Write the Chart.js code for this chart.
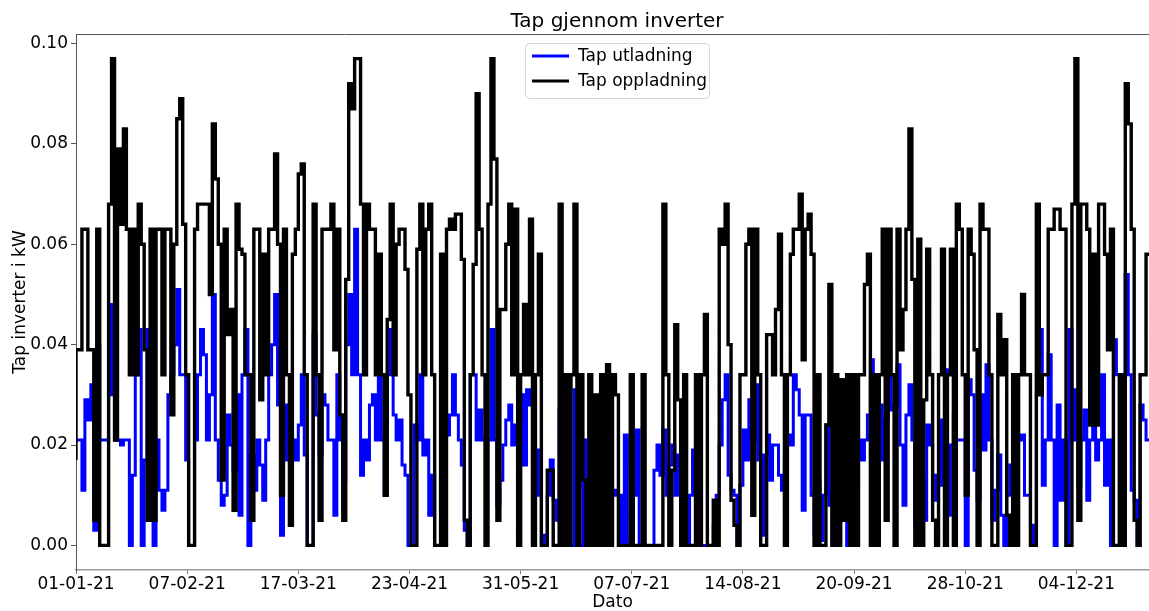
<!DOCTYPE html>
<html lang="no">

<head>
    <meta charset="UTF-8">
    <title>Tap gjennom inverter</title>
    <style>
        html, body { margin: 0; padding: 0; background: #fff; overflow: hidden; }
        #wrap { width: 1149px; height: 611px; }
    </style>
</head>

<body>
    <div id="wrap">
        <canvas id="tapChart" width="1149" height="611"></canvas>
    </div>
    <script src="https://cdn.jsdelivr.net/npm/chart.js"></script>
    <script>
        // tick-tekster på x-aksen (ett merke per 900 timer)
        const datoTicks = ['01-01-21', '07-02-21', '17-03-21', '23-04-21', '31-05-21',
            '07-07-21', '14-08-21', '20-09-21', '28-10-21', '04-12-21'];
        const timerPerTick = 900;
        const yTicks = [0.00, 0.02, 0.04, 0.06, 0.08, 0.10];

        // ett punkt per dag (dag 0 = 01-01-21), verdier i W lest av figuren
        const tapUtladningW = [
            21, 21, 21, 11, 29, 25, 32, 3, 40, 21,
            21, 21, 48, 30, 21, 21, 20, 21, 21, 0,
            14, 34, 43, 0, 17, 43, 17, 0, 21, 11,
            7, 11, 30, 34, 40, 51, 34, 34, 17, 0,
            0, 21, 34, 43, 38, 21, 30, 50, 21, 13,
            8, 10, 26, 20, 15, 30, 6, 34, 43, 0,
            18, 11, 21, 16, 9, 21, 34, 40, 50, 28,
            2, 17, 28, 21, 21, 17, 24, 34, 18, 0,
            0, 42, 26, 18, 30, 28, 21, 21, 6, 34,
            21, 13, 40, 50, 34, 63, 34, 14, 21, 17,
            28, 30, 21, 34, 21, 10, 34, 43, 26, 21,
            25, 16, 14, 0, 0, 24, 21, 34, 18, 21,
            6, 14, 0, 0, 40, 0, 22, 26, 34, 26,
            21, 16, 3, 0, 34, 34, 21, 27, 21, 21,
            21, 43, 21, 8, 13, 20, 25, 28, 20, 24,
            0, 30, 16, 31, 28, 0, 19, 10, 0, 2,
            10, 17, 9, 5, 27, 0, 0, 0, 0, 31,
            0, 0, 21, 0, 5, 0, 10, 0, 8, 0,
            12, 0, 10, 11, 10, 0, 22, 0, 0, 10,
            23, 0, 0, 0, 0, 0, 15, 20, 14, 23,
            10, 16, 20, 10, 18, 0, 0, 0, 10, 19,
            16, 12, 0, 0, 0, 0, 4, 10, 20, 29,
            34, 14, 11, 10, 0, 12, 23, 17, 29, 21,
            32, 17, 2, 18, 22, 13, 20, 20, 14, 11,
            17, 22, 20, 34, 31, 26, 7, 26, 26, 10,
            2, 13, 1, 10, 24, 8, 11, 8, 7, 15,
            10, 0, 0, 11, 11, 21, 17, 21, 26, 37,
            21, 0, 28, 17, 25, 34, 27, 28, 36, 20,
            8, 26, 32, 21, 4, 16, 13, 5, 24, 20,
            14, 9, 12, 25, 35, 6, 20, 26, 21, 21,
            21, 0, 33, 30, 15, 9, 30, 19, 36, 21,
            5, 11, 18, 6, 0, 10, 16, 0, 15, 21,
            22, 10, 10, 4, 0, 34, 43, 12, 21, 38,
            21, 0, 28, 9, 21, 0, 43, 21, 31, 12,
            21, 27, 9, 21, 55, 17, 21, 34, 12, 21,
            0, 41, 34, 0, 21, 54, 34, 11, 9, 0,
            28, 25, 21, 14
        ];

        const tapOppladningW = [
            17, 39, 39, 63, 63, 39, 39, 5, 63, 0,
            0, 0, 68, 97, 21, 79, 64, 83, 63, 34,
            63, 34, 68, 60, 39, 5, 63, 5, 63, 63,
            34, 63, 63, 26, 60, 85, 89, 64, 34, 0,
            0, 63, 68, 68, 68, 68, 50, 84, 73, 60,
            13, 63, 42, 47, 7, 68, 59, 58, 34, 34,
            5, 63, 63, 29, 58, 34, 63, 63, 78, 60,
            10, 63, 34, 4, 58, 63, 74, 76, 34, 0,
            0, 68, 34, 5, 63, 63, 63, 68, 39, 63,
            26, 5, 53, 92, 87, 97, 97, 68, 34, 68,
            63, 63, 34, 58, 34, 10, 45, 68, 34, 60,
            63, 63, 55, 30, 0, 0, 59, 68, 34, 63,
            68, 34, 0, 0, 58, 0, 63, 65, 63, 66,
            66, 57, 5, 0, 34, 56, 90, 63, 34, 0,
            68, 97, 77, 5, 47, 47, 60, 68, 34, 67,
            0, 34, 48, 34, 65, 0, 34, 58, 0, 0,
            15, 15, 0, 0, 68, 0, 34, 0, 34, 68,
            0, 34, 13, 0, 34, 0, 30, 0, 34, 0,
            36, 0, 34, 30, 0, 0, 0, 0, 34, 0,
            0, 0, 34, 0, 0, 0, 0, 0, 0, 68,
            34, 0, 15, 44, 29, 0, 34, 0, 0, 0,
            34, 0, 34, 46, 0, 0, 9, 0, 63, 60,
            68, 40, 9, 4, 0, 34, 34, 60, 63, 6,
            63, 34, 0, 0, 42, 42, 34, 47, 62, 34,
            0, 34, 58, 63, 63, 70, 37, 63, 66, 58,
            0, 34, 0, 0, 24, 52, 0, 34, 0, 33,
            5, 34, 0, 34, 0, 34, 34, 52, 58, 0,
            34, 0, 34, 63, 5, 63, 34, 0, 63, 39,
            47, 63, 83, 53, 0, 61, 0, 29, 59, 34,
            5, 0, 34, 59, 0, 34, 59, 0, 68, 63,
            34, 10, 63, 58, 39, 0, 68, 63, 63, 34,
            0, 0, 46, 34, 41, 6, 0, 34, 0, 34,
            50, 34, 34, 0, 0, 68, 30, 34, 34, 63,
            63, 67, 67, 63, 63, 0, 0, 68, 97, 5,
            68, 68, 63, 24, 58, 24, 68, 68, 58, 39,
            63, 0, 0, 34, 0, 92, 84, 63, 5, 0,
            34, 34, 58, 30
        ];

        // W -> kW, x i timer fra 01-01-21
        const tilPunkter = (arr) => arr.map((w, dag) => ({ x: dag * 24, y: w / 1000 }));

        const fontFam = "'DejaVu Sans', sans-serif";
        const tittel = 'Tap gjennom inverter';

        // matplotlib-aktig tittel, topp-linje og legend-boks
        const mplPynt = {
            id: 'mplPynt',
            afterDraw(chart) {
                const { ctx, chartArea } = chart;
                ctx.save();
                // tittel sentrert over aksene (aksene går litt forbi høyre kant)
                ctx.fillStyle = '#000';
                ctx.font = '20px ' + fontFam;
                ctx.textAlign = 'center';
                ctx.textBaseline = 'middle';
                ctx.fillText(tittel, 617, 22);

                ctx.strokeStyle = '#555';
                ctx.lineWidth = 1;
                ctx.beginPath();
                ctx.moveTo(chartArea.left, chartArea.top + 0.5);
                ctx.lineTo(chartArea.right + 5, chartArea.top + 0.5);
                ctx.stroke();

                // legend
                const bx = 525.5, by = 43.5, bw = 184, bh = 55;
                ctx.fillStyle = 'rgba(255,255,255,0.8)';
                ctx.strokeStyle = '#d6d6d6';
                ctx.beginPath();
                ctx.roundRect(bx, by, bw, bh, 4);
                ctx.fill();
                ctx.stroke();
                ctx.textAlign = 'left';
                chart.data.datasets.forEach((ds, i) => {
                    const y = 56 + i * 25;
                    ctx.strokeStyle = ds.borderColor;
                    ctx.lineWidth = 3;
                    ctx.beginPath();
                    ctx.moveTo(532, y);
                    ctx.lineTo(569, y);
                    ctx.stroke();
                    ctx.fillStyle = '#000';
                    ctx.font = '17px ' + fontFam;
                    ctx.fillText(ds.label, 578, y + 1);
                });
                ctx.restore();
            }
        };

        const ctxTap = document.getElementById('tapChart');
        const chartTap = new Chart(ctxTap, {
            type: 'line',
            data: {
                datasets: [{
                    label: 'Tap utladning',
                    data: tilPunkter(tapUtladningW),
                    borderColor: '#0000ff',
                    borderWidth: 3,
                    pointRadius: 0,
                    stepped: 'after',
                    order: 1
                }, {
                    label: 'Tap oppladning',
                    data: tilPunkter(tapOppladningW),
                    borderColor: '#000000',
                    borderWidth: 3.4,
                    pointRadius: 0,
                    stepped: 'after',
                    order: 0
                }]
            },
            options: {
                responsive: false,
                animation: false,
                devicePixelRatio: 1,
                layout: { padding: { top: 34 } },
                plugins: {
                    legend: { display: false },
                    tooltip: { enabled: false },
                    title: { display: false }
                },
                scales: {
                    x: {
                        type: 'linear',
                        min: 0,
                        max: 362 * 24,
                        afterFit: (s) => { s.height = 41; },
                        afterBuildTicks: (s) => {
                            s.ticks = datoTicks.map((_, i) => ({ value: i * timerPerTick }));
                        },
                        ticks: {
                            autoSkip: false,
                            maxRotation: 0,
                            color: '#000',
                            padding: 0,
                            font: { family: fontFam, size: 17 },
                            callback: (v) => datoTicks[Math.round(v / timerPerTick)] ?? ''
                        },
                        grid: { drawOnChartArea: false, tickLength: 4, color: '#777' },
                        border: { color: '#999', width: 1.5 },
                        title: {
                            display: true,
                            text: 'Dato',
                            color: '#000',
                            font: { family: fontFam, size: 17 },
                            padding: { top: 0, bottom: -2 }
                        }
                    },
                    y: {
                        min: -0.0049,
                        max: 0.1019,
                        afterFit: (s) => { s.width = 76; },
                        afterBuildTicks: (s) => {
                            s.ticks = yTicks.map((v) => ({ value: v }));
                        },
                        ticks: {
                            color: '#000',
                            padding: 3,
                            font: { family: fontFam, size: 17 },
                            callback: (v) => v.toFixed(2)
                        },
                        grid: { drawOnChartArea: false, tickLength: 5, color: '#555' },
                        border: { color: '#555', width: 1 },
                        title: {
                            display: true,
                            text: 'Tap inverter i kW',
                            color: '#000',
                            font: { family: fontFam, size: 17 },
                            padding: { top: 10, bottom: 0 }
                        }
                    }
                }
            },
            plugins: [mplPynt]
        });
    </script>
</body>

</html>
